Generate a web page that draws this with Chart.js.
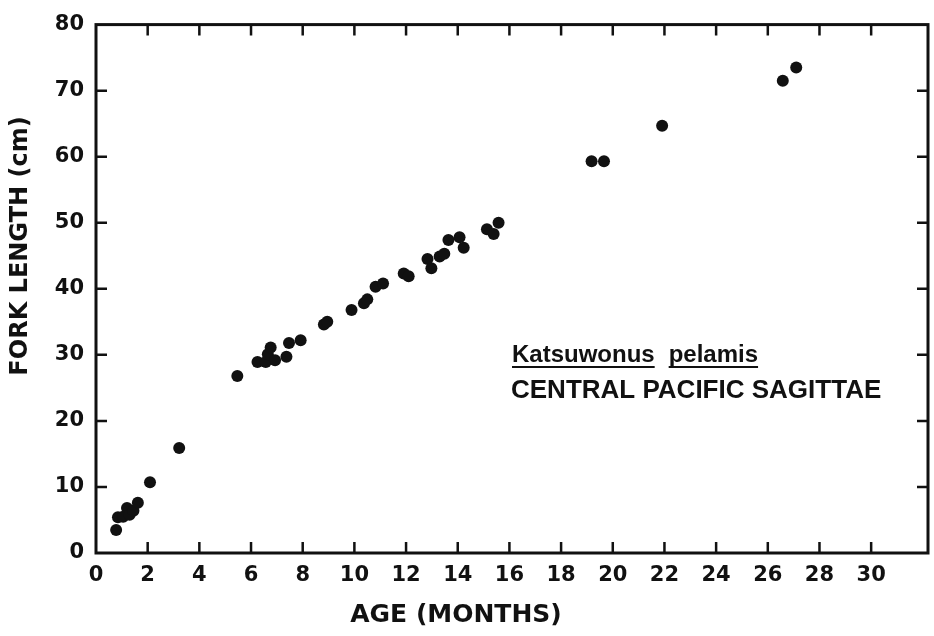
<!DOCTYPE html>
<html>
<head>
<meta charset="utf-8">
<title>Katsuwonus pelamis - fork length vs age</title>
<script src="https://cdn.jsdelivr.net/npm/chart.js@4.4.0/dist/chart.umd.min.js"></script>
<style>
    html, body { margin: 0; padding: 0; background: #fff; }
    #wrap { width: 934px; height: 636px; }
</style>
</head>
<body>
<div id="wrap"><canvas id="growthChart" width="934" height="636"></canvas></div>
<script>
// ==========================================
// data
// ==========================================
const AGE_MONTHS = [
    0.78, 0.85, 1.05, 1.2, 1.3, 1.45, 1.62, 2.09, 3.22,
    5.47, 6.25, 6.57, 6.65, 6.76, 6.93, 7.37, 7.47, 7.92,
    8.82, 8.95, 9.89, 10.37, 10.5, 10.82, 11.11, 11.91, 12.1,
    12.83, 12.98, 13.3, 13.48, 13.64, 14.07, 14.23,
    15.13, 15.39, 15.58, 19.18, 19.66, 21.91, 26.58, 27.1
];
const FORK_LENGTH_CM = [
    3.5, 5.4, 5.5, 6.8, 5.8, 6.4, 7.6, 10.7, 15.9,
    26.8, 28.9, 28.9, 30.1, 31.1, 29.2, 29.7, 31.8, 32.2,
    34.6, 35.0, 36.8, 37.8, 38.4, 40.3, 40.8, 42.3, 41.9,
    44.5, 43.1, 44.9, 45.3, 47.4, 47.8, 46.2,
    49.0, 48.3, 50.0, 59.3, 59.3, 64.7, 71.5, 73.5
];
const X_TICKS = [0, 2, 4, 6, 8, 10, 12, 14, 16, 18, 20, 22, 24, 26, 28, 30];
const Y_TICKS = [0, 10, 20, 30, 40, 50, 60, 70, 80];

const X_TITLE = "AGE (MONTHS)";
const Y_TITLE = "FORK LENGTH (cm)";
const SPECIES = ["Katsuwonus", "pelamis"];
const SUBTITLE = "CENTRAL PACIFIC SAGITTAE";

const INK = "#111";

// frame, inside ticks, titles and the species note
const framePlugin = {
    id: "frame",
    beforeDatasetsDraw(chart) {
        const { ctx, chartArea: a, scales } = chart;
        const x = scales.x, y = scales.y;
        ctx.save();
        ctx.strokeStyle = INK;
        ctx.lineWidth = 3;
        ctx.strokeRect(a.left, a.top, a.right - a.left, a.bottom - a.top);

        ctx.lineWidth = 2.5;
        ctx.beginPath();
        X_TICKS.forEach(v => {
            if (v === 0) return;
            const px = x.getPixelForValue(v);
            ctx.moveTo(px, a.bottom); ctx.lineTo(px, a.bottom - 11);
            ctx.moveTo(px, a.top); ctx.lineTo(px, a.top + 11);
        });
        Y_TICKS.forEach(v => {
            if (v === 0 || v === 80) return;
            const py = y.getPixelForValue(v);
            ctx.moveTo(a.left, py); ctx.lineTo(a.left + 11, py);
            ctx.moveTo(a.right, py); ctx.lineTo(a.right - 11, py);
        });
        ctx.stroke();

        ctx.fillStyle = INK;
        // axis titles
        ctx.font = "bold 25px 'DejaVu Sans'";
        ctx.textAlign = "center";
        ctx.textBaseline = "middle";
        ctx.fillText(X_TITLE, 456, 615);
        ctx.save();
        ctx.translate(21, 246);
        ctx.rotate(-Math.PI / 2);
        ctx.font = "bold 24px 'DejaVu Sans'";
        ctx.fillText(Y_TITLE, 0, 0);
        ctx.restore();

        // species note, each word underlined
        ctx.textAlign = "left";
        ctx.textBaseline = "alphabetic";
        ctx.font = "bold 24px 'Liberation Sans'";
        let tx = 512;
        SPECIES.forEach(word => {
            const w = ctx.measureText(word).width;
            ctx.fillText(word, tx, 362);
            ctx.fillRect(tx, 366, w, 2);
            tx += w + 14;
        });
        ctx.font = "bold 26px 'Liberation Sans'";
        ctx.fillText(SUBTITLE, 511, 398);
        ctx.restore();
    }
};

const points = AGE_MONTHS.map((age, i) => ({ x: age, y: FORK_LENGTH_CM[i] }));

new Chart(document.getElementById("growthChart"), {
    type: "scatter",
    data: {
        datasets: [{
            data: points,
            pointRadius: 6,
            pointHoverRadius: 6,
            pointBackgroundColor: INK,
            pointBorderColor: INK,
            pointBorderWidth: 0
        }]
    },
    options: {
        responsive: false,
        animation: false,
        events: [],
        layout: { padding: { top: 22, right: 3, left: 0, bottom: 0 } },
        plugins: { legend: { display: false }, tooltip: { enabled: false } },
        scales: {
            x: {
                type: "linear",
                min: 0,
                max: 32.2,
                afterBuildTicks: scale => { scale.ticks = X_TICKS.map(v => ({ value: v })); },
                afterFit: scale => { scale.height = 83; },
                grid: { display: false, drawTicks: false },
                border: { display: false },
                ticks: {
                    padding: 10,
                    color: INK,
                    font: { family: "'DejaVu Sans'", size: 21, weight: "bold" },
                    maxRotation: 0,
                    autoSkip: false
                }
            },
            y: {
                type: "linear",
                min: 0,
                max: 80,
                afterBuildTicks: scale => { scale.ticks = Y_TICKS.map(v => ({ value: v })); },
                afterFit: scale => { scale.width = 96; },
                grid: { display: false, drawTicks: false },
                border: { display: false },
                ticks: {
                    padding: 12,
                    color: INK,
                    font: { family: "'DejaVu Sans'", size: 21, weight: "bold" }
                }
            }
        }
    },
    plugins: [framePlugin]
});
</script>
</body>
</html>
